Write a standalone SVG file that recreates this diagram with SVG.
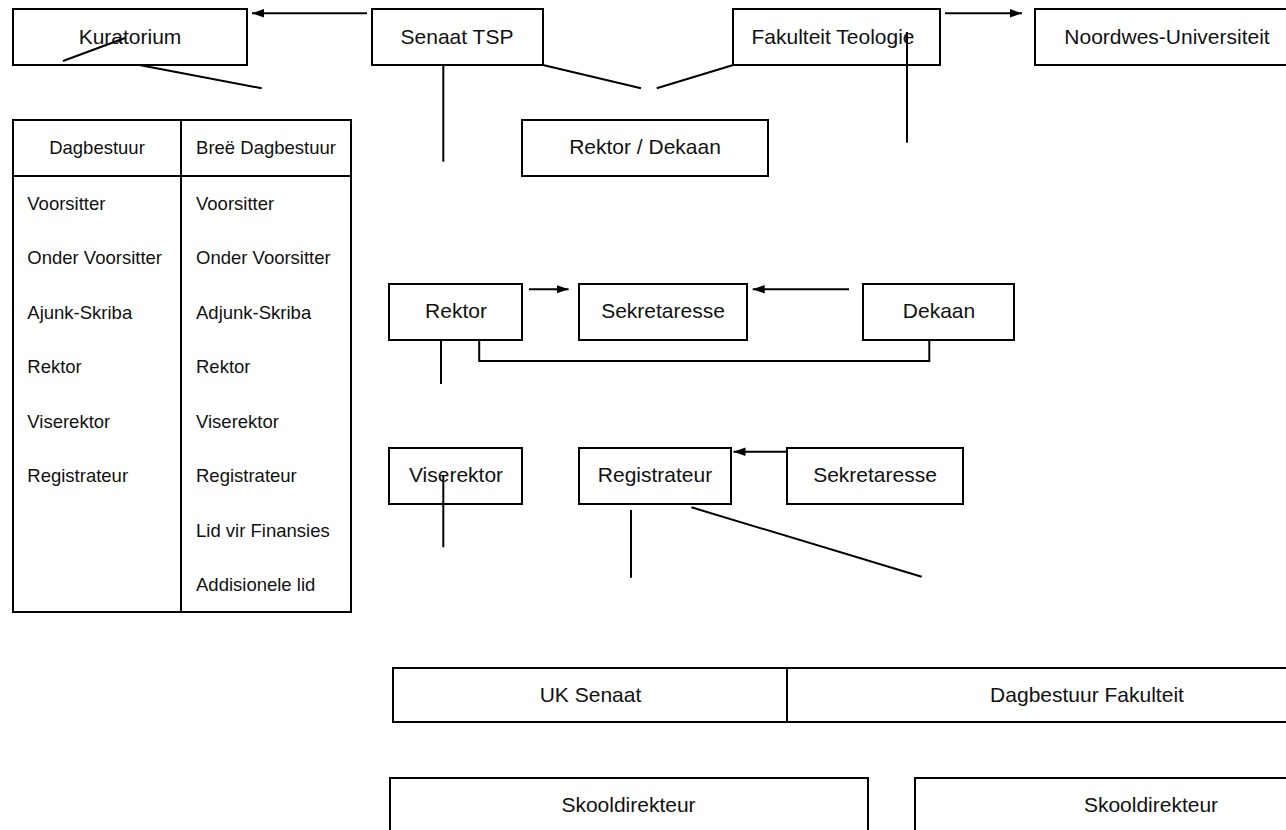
<svg xmlns="http://www.w3.org/2000/svg" width="1286" height="830" viewBox="0 0 1286 830">
<style>
.box{fill:#fff;stroke:#000;stroke-width:2}
.ln{fill:none;stroke:#000;stroke-width:2}
.t{font-family:"Liberation Sans",Arial,sans-serif;font-size:21px;fill:#111;text-anchor:middle}
.tt{font-family:"Liberation Sans",Arial,sans-serif;font-size:18.5px;fill:#111}
.c{text-anchor:middle}
</style>
<defs>
<marker id="ah" markerUnits="userSpaceOnUse" markerWidth="13" markerHeight="10" refX="12" refY="5" orient="auto">
<path d="M0,0.8 L12,5 L0,9.2 z" fill="#000"/>
</marker>
</defs>
<rect width="1286" height="830" fill="#fff"/>

<g id="kuratorium">
<rect class="box" x="13" y="9" width="234" height="56"/>
<text class="t" x="130" y="43.5">Kuratorium</text>
</g>
<g id="senaat-tsp">
<rect class="box" x="372" y="9" width="171" height="56"/>
<text class="t" x="457" y="43.5">Senaat TSP</text>
</g>
<g id="fakulteit-teologie">
<rect class="box" x="733" y="9" width="207" height="56"/>
<text class="t" x="833" y="43.5">Fakulteit Teologie</text>
</g>
<g id="noordwes-universiteit">
<rect class="box" x="1035" y="9" width="270" height="56"/>
<text class="t" x="1167" y="43.5">Noordwes-Universiteit</text>
</g>
<g id="rektor-dekaan">
<rect class="box" x="522" y="120" width="246" height="56"/>
<text class="t" x="645" y="154">Rektor / Dekaan</text>
</g>

<g id="kuratorium-tabel">
<rect class="box" x="13" y="120" width="338" height="492"/>
<line class="ln" x1="181" y1="120" x2="181" y2="612"/>
<line class="ln" x1="13" y1="176" x2="351" y2="176"/>
<text class="tt c" x="97" y="154.3">Dagbestuur</text>
<text class="tt c" x="266" y="154.3">Breë Dagbestuur</text>
<text class="tt" x="27.3" y="210">Voorsitter</text>
<text class="tt" x="27.3" y="264">Onder Voorsitter</text>
<text class="tt" x="27.3" y="318.5">Ajunk-Skriba</text>
<text class="tt" x="27.3" y="373">Rektor</text>
<text class="tt" x="27.3" y="427.5">Viserektor</text>
<text class="tt" x="27.3" y="482">Registrateur</text>
<text class="tt" x="196" y="210">Voorsitter</text>
<text class="tt" x="196" y="264">Onder Voorsitter</text>
<text class="tt" x="196" y="318.5">Adjunk-Skriba</text>
<text class="tt" x="196" y="373">Rektor</text>
<text class="tt" x="196" y="427.5">Viserektor</text>
<text class="tt" x="196" y="482">Registrateur</text>
<text class="tt" x="196" y="536.5">Lid vir Finansies</text>
<text class="tt" x="196" y="591">Addisionele lid</text>
</g>

<g id="rektor">
<rect class="box" x="389" y="284" width="133" height="56"/>
<text class="t" x="456" y="318">Rektor</text>
</g>
<g id="sekretaresse-1">
<rect class="box" x="579" y="284" width="168" height="56"/>
<text class="t" x="663" y="318">Sekretaresse</text>
</g>
<g id="dekaan">
<rect class="box" x="863" y="284" width="151" height="56"/>
<text class="t" x="939" y="318">Dekaan</text>
</g>
<g id="viserektor">
<rect class="box" x="389" y="448" width="133" height="56"/>
<text class="t" x="456" y="482">Viserektor</text>
</g>
<g id="registrateur">
<rect class="box" x="579" y="448" width="152" height="56"/>
<text class="t" x="655" y="482">Registrateur</text>
</g>
<g id="sekretaresse-2">
<rect class="box" x="787" y="448" width="176" height="56"/>
<text class="t" x="875" y="482">Sekretaresse</text>
</g>

<g id="uk-senaat">
<rect class="box" x="393" y="668" width="394" height="54"/>
<text class="t" x="590.5" y="701.7">UK Senaat</text>
</g>
<g id="dagbestuur-fakulteit">
<rect class="box" x="787" y="668" width="600" height="54"/>
<text class="t" x="1087" y="701.7">Dagbestuur Fakulteit</text>
</g>
<g id="skooldirekteur-1">
<rect class="box" x="390" y="778" width="478" height="80"/>
<text class="t" x="628.5" y="811.7">Skooldirekteur</text>
</g>
<g id="skooldirekteur-2">
<rect class="box" x="915" y="778" width="472" height="80"/>
<text class="t" x="1151" y="811.7">Skooldirekteur</text>
</g>

<g id="connectors">
<line class="ln" x1="367" y1="13.3" x2="252" y2="13.3" marker-end="url(#ah)"/>
<line class="ln" x1="945" y1="13.3" x2="1022" y2="13.3" marker-end="url(#ah)"/>
<line class="ln" x1="63" y1="61" x2="125" y2="38"/>
<line class="ln" x1="139.3" y1="65" x2="261.7" y2="88.3"/>
<line class="ln" x1="443.3" y1="65" x2="443.3" y2="161.7"/>
<line class="ln" x1="543" y1="65" x2="641" y2="88.3"/>
<line class="ln" x1="733.3" y1="65" x2="656.7" y2="88.3"/>
<line class="ln" x1="907" y1="32" x2="907" y2="142.7"/>
<line class="ln" x1="529" y1="289.3" x2="568.6" y2="289.3" marker-end="url(#ah)"/>
<line class="ln" x1="849" y1="289.3" x2="752.7" y2="289.3" marker-end="url(#ah)"/>
<line class="ln" x1="441" y1="339" x2="441" y2="384"/>
<polyline class="ln" points="479.2,340 479.2,361 929.3,361 929.3,340"/>
<line class="ln" x1="786" y1="451.7" x2="733.5" y2="451.7" marker-end="url(#ah)"/>
<line class="ln" x1="443.3" y1="475" x2="443.3" y2="547.3"/>
<line class="ln" x1="631" y1="510" x2="631" y2="577.7"/>
<line class="ln" x1="691.4" y1="507.3" x2="921.7" y2="576.7"/>
</g>
</svg>
